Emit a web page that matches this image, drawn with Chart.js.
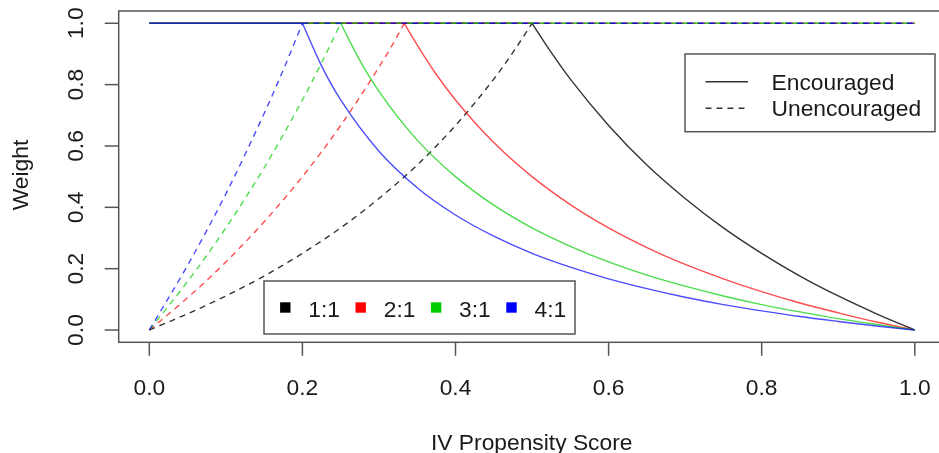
<!DOCTYPE html>
<html>
<head>
<meta charset="utf-8">
<script src="https://cdn.jsdelivr.net/npm/chart.js@4/dist/chart.umd.min.js"></script>
<style>
  html, body { margin: 0; padding: 0; background: #fff; overflow: hidden; }
  #wrap { width: 950px; height: 453px; }
</style>
</head>
<body>
<div id="wrap"><canvas id="weightChart" width="950" height="453"></canvas></div>
<script>
// --- data ---
const ratios = ['1:1', '2:1', '3:1', '4:1'];
const ratioColors = ['#000000', '#ff0000', '#00cd00', '#0000ff'];
const lineColors = ['rgba(0,0,0,0.8)', 'rgba(255,0,0,0.7)', 'rgba(0,205,0,0.7)', 'rgba(0,0,255,0.7)'];
const thresholds = [0.5, 0.333, 0.25, 0.2];   // where each curve reaches weight 1
const fullWeight = 1;
const xTicks = [0, 0.2, 0.4, 0.6, 0.8, 1.0];
const yTicks = [0, 0.2, 0.4, 0.6, 0.8, 1.0];
const lineTypes = ['Encouraged', 'Unencouraged'];

// Encouraged (solid) : falling part
const enc11X = [0.5, 0.525, 0.55, 0.6, 0.65, 0.7, 0.75, 0.8, 0.85, 0.9, 0.95, 1.0];
const enc11Y = [1, 0.905, 0.818, 0.667, 0.538, 0.429, 0.333, 0.25, 0.176, 0.111, 0.053, 0];
const enc21X = [0.333, 0.35, 0.375, 0.4, 0.45, 0.5, 0.55, 0.6, 0.65, 0.7, 0.75, 0.8, 0.85, 0.9, 0.95, 1.0];
const enc21Y = [1, 0.929, 0.833, 0.75, 0.611, 0.5, 0.409, 0.333, 0.269, 0.214, 0.167, 0.125, 0.088, 0.056, 0.026, 0];
const enc31X = [0.25, 0.275, 0.3, 0.35, 0.4, 0.45, 0.5, 0.55, 0.6, 0.65, 0.7, 0.75, 0.8, 0.85, 0.9, 0.95, 1.0];
const enc31Y = [1, 0.879, 0.778, 0.619, 0.5, 0.407, 0.333, 0.273, 0.222, 0.179, 0.143, 0.111, 0.083, 0.059, 0.037, 0.018, 0];
const enc41X = [0.2, 0.225, 0.25, 0.3, 0.35, 0.4, 0.45, 0.5, 0.55, 0.6, 0.65, 0.7, 0.75, 0.8, 0.85, 0.9, 0.95, 1.0];
const enc41Y = [1, 0.861, 0.75, 0.583, 0.464, 0.375, 0.306, 0.25, 0.205, 0.167, 0.135, 0.107, 0.083, 0.0625, 0.044, 0.028, 0.013, 0];

// Unencouraged (dashed) : rising part
const unc11X = [0, 0.05, 0.1, 0.15, 0.2, 0.25, 0.3, 0.35, 0.4, 0.45, 0.475, 0.5];
const unc11Y = [0, 0.053, 0.111, 0.176, 0.25, 0.333, 0.429, 0.538, 0.667, 0.818, 0.905, 1];
const unc21X = [0, 0.05, 0.1, 0.15, 0.2, 0.25, 0.3, 0.317, 0.333];
const unc21Y = [0, 0.105, 0.222, 0.353, 0.5, 0.667, 0.857, 0.927, 1];
const unc31X = [0, 0.05, 0.1, 0.15, 0.2, 0.225, 0.25];
const unc31Y = [0, 0.158, 0.333, 0.529, 0.75, 0.871, 1];
const unc41X = [0, 0.05, 0.1, 0.15, 0.175, 0.2];
const unc41Y = [0, 0.211, 0.444, 0.706, 0.848, 1];

const encX = [enc11X, enc21X, enc31X, enc41X], encY = [enc11Y, enc21Y, enc31Y, enc41Y];
const uncX = [unc11X, unc21X, unc31X, unc41X], uncY = [unc11Y, unc21Y, unc31Y, unc41Y];

function pts(xs, ys){ return xs.map((x, i) => ({ x: x, y: ys[i] })); }

const FONT = '22.8px "Liberation Sans", Arial, Helvetica, sans-serif';
const TEXT = '#1a1a1a';
const FRAME = '#555';

const datasets = [];
ratios.forEach((r, i) => {
  const t = thresholds[i];
  // solid: flat at 1, break, then falling curve (break keeps the corner sharp)
  datasets.push({
    label: r + ' enc',
    data: [{ x: 0, y: fullWeight }, { x: t, y: fullWeight }, { x: t, y: null }].concat(pts(encX[i], encY[i])),
    borderColor: lineColors[i], borderWidth: 1.4, order: 3 - i
  });
  // dashed: rising curve, break, then flat at 1
  datasets.push({
    label: r + ' unc',
    data: pts(uncX[i], uncY[i]).concat([{ x: t, y: null }, { x: t, y: fullWeight }, { x: 1, y: fullWeight }]),
    borderColor: lineColors[i], borderWidth: 1.4, borderDash: [6, 5], order: 3 - i
  });
});

// R style box, axes and legends
const rPlot = {
  id: 'rPlot',
  afterDatasetsDraw(chart) {
    const ctx = chart.ctx, a = chart.chartArea;
    const xs = chart.scales.x, ys = chart.scales.y;
    ctx.save();
    ctx.strokeStyle = FRAME;
    ctx.lineWidth = 1.5;
    ctx.strokeRect(a.left, a.top, a.right - a.left, a.bottom - a.top);

    ctx.font = FONT;
    ctx.fillStyle = TEXT;
    // x axis
    ctx.textAlign = 'center';
    ctx.textBaseline = 'alphabetic';
    xTicks.forEach(v => {
      const px = xs.getPixelForValue(v);
      ctx.beginPath(); ctx.moveTo(px, a.bottom); ctx.lineTo(px, a.bottom + 13.5); ctx.stroke();
      ctx.fillText(v.toFixed(1), px, 395);
    });
    // y axis (labels rotated, like R)
    yTicks.forEach(v => {
      const py = ys.getPixelForValue(v);
      ctx.beginPath(); ctx.moveTo(a.left, py); ctx.lineTo(a.left - 14, py); ctx.stroke();
      ctx.save();
      ctx.translate(83, py);
      ctx.rotate(-Math.PI / 2);
      ctx.fillText(v.toFixed(1), 0, 0);
      ctx.restore();
    });
    // titles
    ctx.fillText('IV Propensity Score', 531.7, 450);
    ctx.save();
    ctx.translate(28, 175);
    ctx.rotate(-Math.PI / 2);
    ctx.fillText('Weight', 0, 0);
    ctx.restore();

    // legend: line types
    ctx.fillStyle = '#fff';
    ctx.fillRect(685, 54, 250, 77.7);
    ctx.strokeStyle = FRAME;
    ctx.strokeRect(685, 54, 250, 77.7);
    ctx.strokeStyle = 'rgba(0,0,0,0.8)';
    ctx.lineWidth = 1.4;
    [[], [6, 5]].forEach((dash, k) => {
      const ly = 81.7 + k * 26.5;
      ctx.setLineDash(dash);
      ctx.beginPath(); ctx.moveTo(705.5, ly); ctx.lineTo(748, ly); ctx.stroke();
    });
    ctx.setLineDash([]);
    ctx.fillStyle = TEXT;
    ctx.textAlign = 'left';
    lineTypes.forEach((s, k) => ctx.fillText(s, 771.5, 89.8 + k * 26.5));

    // legend: ratios
    ctx.fillStyle = '#fff';
    ctx.fillRect(264, 281, 311, 53);
    ctx.strokeStyle = FRAME;
    ctx.lineWidth = 1.5;
    ctx.strokeRect(264, 281, 311, 53);
    ratios.forEach((r, i) => {
      const sx = 285.3 + i * 75.4;
      ctx.fillStyle = ratioColors[i];
      ctx.fillRect(sx - 5.2, 307.5 - 5.2, 10.4, 10.4);
      ctx.fillStyle = TEXT;
      ctx.fillText(r, sx + 23, 316.5);
    });
    ctx.restore();
  }
};

new Chart(document.getElementById('weightChart'), {
  type: 'line',
  data: { datasets: datasets },
  options: {
    responsive: false,
    animation: false,
    devicePixelRatio: 1,
    layout: { padding: { left: 118.7, right: 4.6, top: 11, bottom: 110.7 } },
    elements: {
      point: { radius: 0, hoverRadius: 0 },
      line: { cubicInterpolationMode: 'monotone', fill: false, borderCapStyle: 'butt' }
    },
    scales: {
      x: { type: 'linear', display: false, min: -0.04, max: 1.04 },
      y: { type: 'linear', display: false, min: -0.04, max: 1.04 }
    },
    plugins: { legend: { display: false }, tooltip: { enabled: false } }
  },
  plugins: [rPlot]
});
</script>
</body>
</html>
